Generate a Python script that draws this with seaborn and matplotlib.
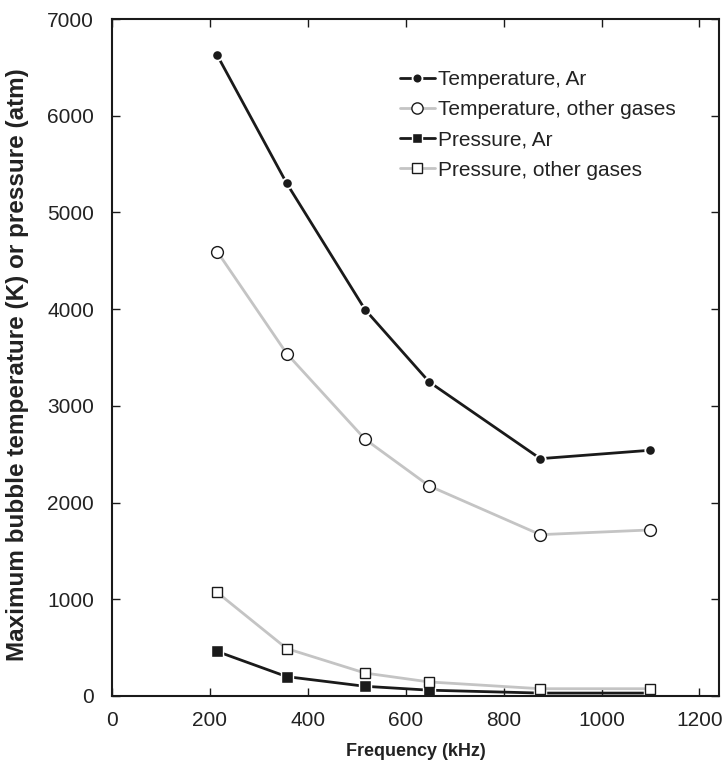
import matplotlib
matplotlib.use("Agg")
import matplotlib.pyplot as plt
import seaborn as sns
import pandas as pd

freq_khz = [215, 357, 517, 648, 875, 1100]
temp_ar = [6625, 5300, 3995, 3247, 2454, 2541]
temp_other = [4595, 3540, 2655, 2172, 1668, 1717]
press_ar = [460, 200, 100, 60, 30, 30]
press_other = [1070, 490, 237, 145, 75, 75]

series_names = ["Temperature, Ar", "Temperature, other gases",
                "Pressure, Ar", "Pressure, other gases"]

sns.set_style("ticks")
plt.rcParams['font.family'] = ['Liberation Sans', 'DejaVu Sans']

fig = plt.figure(figsize=(7.25, 7.67), dpi=100)
ax = fig.add_axes([0.1545, 0.0926, 0.8372, 0.8826])

dark = "#1a1a1a"
grey = "#c4c4c4"

styles = {
    "Temperature, Ar": dict(color=dark, marker="o", markersize=7.5, markerfacecolor=dark,
                            markeredgecolor="white", markeredgewidth=1.3, linewidth=2.0),
    "Temperature, other gases": dict(color=grey, marker="o", markersize=8.5, markerfacecolor="white",
                                     markeredgecolor=dark, markeredgewidth=1.0, linewidth=2.0),
    "Pressure, Ar": dict(color=dark, marker="s", markersize=8, markerfacecolor=dark,
                         markeredgecolor="white", markeredgewidth=1.0, linewidth=2.0),
    "Pressure, other gases": dict(color=grey, marker="s", markersize=7.5, markerfacecolor="white",
                                  markeredgecolor=dark, markeredgewidth=1.0, linewidth=2.0),
}

values = [temp_ar, temp_other, press_ar, press_other]
for name, vals in zip(series_names, values):
    df = pd.DataFrame({"Frequency": freq_khz, "Value": vals})
    sns.lineplot(data=df, x="Frequency", y="Value", ax=ax, label=name, **styles[name])

ax.set_xlim(0, 1240)
ax.set_ylim(0, 7000)
ax.set_xticks(range(0, 1201, 200))
ax.set_yticks(range(0, 7001, 1000))

for s in ax.spines.values():
    s.set_visible(True)
    s.set_linewidth(1.5)
    s.set_color(dark)

ax.tick_params(axis="both", which="major", direction="in", length=6, width=1.0,
               top=True, right=True, labelsize=15, colors=dark, labelcolor="#222222")
ax.tick_params(axis="y", pad=13)
ax.tick_params(axis="x", pad=11)

ax.set_xlabel("Frequency (kHz)", fontsize=13, fontweight="bold", labelpad=9, color="#222222")
ax.set_ylabel("Maximum bubble temperature (K) or pressure (atm)", fontsize=17.5,
              fontweight="bold", color="#222222")
ax.yaxis.set_label_coords(-0.137, 0.49)

leg = ax.legend(loc="upper left", bbox_to_anchor=(0.474, 0.925), frameon=False,
                fontsize=15, handlelength=1.7, handletextpad=0.15, labelspacing=0.54,
                borderpad=0, borderaxespad=0, markerscale=0.95)
for t in leg.get_texts():
    t.set_color("#222222")

fig.savefig("out.png", dpi=100)
